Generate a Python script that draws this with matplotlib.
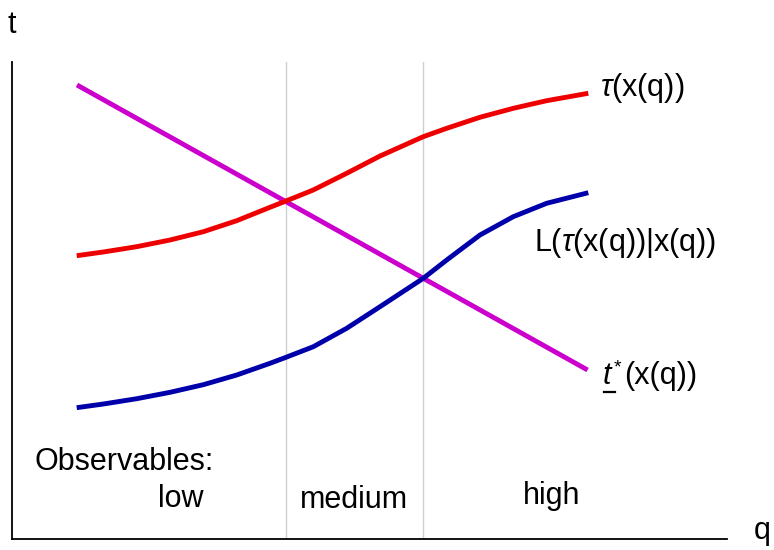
import matplotlib
matplotlib.use("Agg")
import matplotlib.pyplot as plt
from matplotlib.lines import Line2D

plt.rcParams['font.family'] = ['Liberation Sans', 'DejaVu Sans']
plt.rcParams['mathtext.fontset'] = 'custom'
plt.rcParams['mathtext.rm'] = 'Liberation Sans'
plt.rcParams['mathtext.it'] = 'Liberation Sans:italic'

# ---- data ----
curve_q = [0.905, 1.277, 1.744, 2.210, 2.676, 3.143, 3.608, 3.832, 4.214,
           4.681, 5.147, 5.752, 6.080, 6.545, 7.011, 7.478, 8.060]
tau_t = [5.939, 6.017, 6.128, 6.268, 6.442, 6.673, 6.954, 7.086, 7.317,
         7.667, 8.029, 8.434, 8.610, 8.841, 9.029, 9.189, 9.344]
L_t = [2.753, 2.830, 2.941, 3.075, 3.235, 3.438, 3.683, 3.809, 4.031,
       4.417, 4.870, 5.465, 5.849, 6.373, 6.757, 7.038, 7.260]

tstar_q = [0.909, 8.050]
tstar_t = [9.518, 3.543]

region_bounds = [3.832, 5.752]
region_labels = ["low", "medium", "high"]

W, H = 774, 550
fig = plt.figure(figsize=(W / 100, H / 100), dpi=100)
ax = fig.add_axes([12 / W, 11 / H, 715 / W, 477 / H])
ax.set_xlim(0, 10)
ax.set_ylim(0, 10)
for s in ['top', 'right']:
    ax.spines[s].set_visible(False)
for s in ['left', 'bottom']:
    ax.spines[s].set_linewidth(1.3)
    ax.spines[s].set_color('black')
ax.set_xticks([])
ax.set_yticks([])

for b in region_bounds:
    ax.axvline(b, color='#d0d0d0', lw=1.0, zorder=1)

lw = 3.5
ax.plot(curve_q, tau_t, color='#ee0000', lw=lw, solid_capstyle='butt', solid_joinstyle='round', zorder=3)
ax.plot(curve_q, L_t, color='#0000aa', lw=lw, solid_capstyle='butt', solid_joinstyle='round', zorder=3)
ax.plot(tstar_q, tstar_t, color='#cc00cc', lw=lw, solid_capstyle='butt', zorder=2)


def px(x, y):
    return x / W, 1 - y / H


fs = 22
fig.text(*px(12, 25), "t", fontsize=fs, ha='center', va='center')
fig.text(*px(762, 531), "q", fontsize=fs, ha='center', va='center')
fig.text(*px(34, 462), "Observables:", fontsize=fs, ha='left', va='center')
fig.text(*px(181, 499), region_labels[0], fontsize=fs, ha='center', va='center')
fig.text(*px(354, 500), region_labels[1], fontsize=fs, ha='center', va='center')
fig.text(*px(552, 496), region_labels[2], fontsize=fs, ha='center', va='center')

fig.text(*px(600, 88), r"$\tau$(x(q))", fontsize=fs, ha='left', va='center')
fig.text(*px(534, 243), r"L($\tau$(x(q))|x(q))", fontsize=fs, ha='left', va='center')

# t underline * (x(q))
fig.text(*px(603, 376), "t", fontsize=fs, ha='left', va='center', fontstyle='italic')
fig.text(*px(614, 368), "*", fontsize=14, ha='left', va='center')
fig.text(*px(624, 376), "(x(q))", fontsize=fs, ha='left', va='center')
x0, y0 = px(604, 392)
x1, _ = px(615, 392)
fig.add_artist(Line2D([x0, x1], [y0, y0], transform=fig.transFigure, color='black', lw=1.6))

fig.savefig("out.png", dpi=100)
